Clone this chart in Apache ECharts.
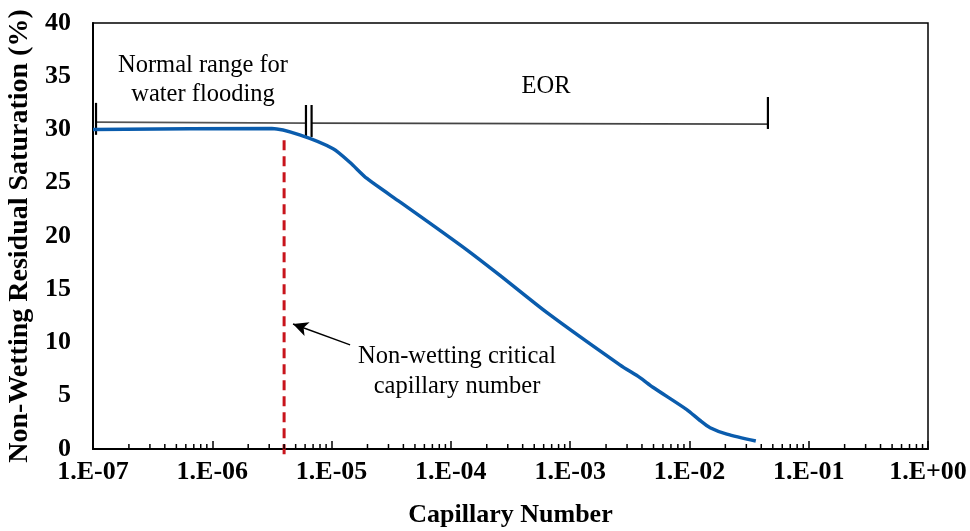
<!DOCTYPE html>
<html>
<head>
<meta charset="utf-8">
<script src="https://cdn.jsdelivr.net/npm/echarts@6/dist/echarts.min.js"></script>
<style>
  html, body { margin: 0; padding: 0; background: #fff; }
  #chart { width: 970px; height: 531px; }
</style>
</head>
<body>
<div id="chart"></div>
<script>
  // capillary number vs residual saturation
  let capNumber = [1e-7, 3.16e-6, 5.4e-6, 1.03e-5, 1.43e-5, 1.98e-5, 3.74e-5, 7.08e-5,
    1.36e-4, 2.58e-4, 6.4e-4, 2.61e-3, 3.85e-3, 4.94e-3, 9.5e-3, 1.22e-2, 1.49e-2, 2.06e-2, 3.6e-2];
  let saturation = [30.0, 30.1, 29.5, 28.2, 26.9, 25.4, 23.2, 21.0,
    18.7, 16.3, 12.8, 7.9, 6.7, 5.8, 3.7, 2.7, 2.0, 1.4, 0.75];

  // annotation geometry (data coords)
  let criticalNc = 4e-6;
  let criticalLine = [[criticalNc, 29.0], [criticalNc, -0.75]];
  let normalRange = [[1.06e-7, 30.7], [6.1e-6, 30.6]];
  let eorRange = [[6.8e-6, 30.6], [4.55e-2, 30.5]];
  let rangeBars = [
    [[1.06e-7, 32.5], [1.06e-7, 29.5]],
    [[6.1e-6, 32.3], [6.1e-6, 29.3]],
    [[6.8e-6, 32.3], [6.8e-6, 29.3]],
    [[4.55e-2, 33.05], [4.55e-2, 30.05]]
  ];
  let arrow = [[1.43e-5, 9.77], [4.75e-6, 11.74]];

  let yTicks = [0, 40, 5];
  let decades = [-7, -6, -5, -4, -3, -2, -1];
  let minorSteps = [2, 3, 4, 5, 6, 7, 8, 9];

  let minorTicks = [];
  decades.forEach(function (d) {
    minorSteps.forEach(function (m) {
      minorTicks.push([m * Math.pow(10, d), 0]);
    });
  });

  const FONT = '"Liberation Serif", "Times New Roman", serif';

  function fmtLog(v) {
    let e = Math.round(Math.log10(v));
    let s = e < 0 ? '-' : '+';
    let a = Math.abs(e);
    return '1.E' + s + (a < 10 ? '0' + a : a);
  }

  let series = [];
  series.push({
    type: 'line',
    data: capNumber.map(function (x, i) { return [x, saturation[i]]; }),
    smooth: 0.25,
    showSymbol: false,
    lineStyle: { color: '#0A5CAD', width: 3.5 },
    z: 5
  });
  series.push({
    type: 'line',
    data: criticalLine,
    showSymbol: false,
    clip: false,
    lineStyle: { color: '#C8141C', width: 3, type: [10, 6] },
    z: 4
  });
  series.push({
    type: 'line',
    data: normalRange,
    showSymbol: false,
    lineStyle: { color: '#555', width: 1.8 }
  });
  series.push({
    type: 'line',
    data: eorRange,
    showSymbol: false,
    lineStyle: { color: '#444', width: 1.8 }
  });
  rangeBars.forEach(function (b) {
    series.push({
      type: 'line',
      data: b,
      showSymbol: false,
      clip: false,
      lineStyle: { color: '#000', width: 2.2 }
    });
  });
  series.push({
    type: 'line',
    data: [],
    markLine: {
      silent: true,
      symbol: ['none', 'arrow'],
      symbolSize: [11, 15],
      label: { show: false },
      lineStyle: { color: '#000', width: 1.4, type: 'solid' },
      data: [[{ coord: arrow[0] }, { coord: arrow[1] }]]
    }
  });
  // minor log ticks on the x axis
  series.push({
    type: 'custom',
    data: minorTicks,
    clip: false,
    renderItem: function (params, api) {
      let p = api.coord([api.value(0), 0]);
      return {
        type: 'line',
        shape: { x1: p[0], y1: p[1], x2: p[0], y2: p[1] - 5 },
        style: { stroke: '#000', lineWidth: 1.5 }
      };
    },
    z: 6
  });

  let option = {
    animation: false,
    textStyle: { fontFamily: FONT },
    grid: {
      show: true,
      left: 93, right: 42, top: 23, bottom: 82,
      outerBoundsMode: 'none',
      containLabel: false,
      borderColor: '#000',
      borderWidth: 1.5
    },
    xAxis: {
      type: 'log',
      logBase: 10,
      min: 1e-7,
      max: 1,
      interval: 1,
      name: 'Capillary Number',
      nameLocation: 'middle',
      nameGap: 53,
      nameTextStyle: { fontFamily: FONT, fontWeight: 'bold', fontSize: 26, color: '#000' },
      axisLine: { lineStyle: { color: '#000', width: 2 } },
      axisTick: { show: true, inside: true, length: 8, lineStyle: { color: '#000', width: 1.5 } },
      splitLine: { show: false },
      axisLabel: {
        formatter: fmtLog,
        margin: 10,
        fontFamily: FONT, fontWeight: 'bold', fontSize: 26, color: '#000'
      }
    },
    yAxis: {
      type: 'value',
      min: yTicks[0],
      max: yTicks[1],
      interval: yTicks[2],
      name: 'Non-Wetting Residual Saturation (%)',
      nameLocation: 'middle',
      nameGap: 59,
      nameTextStyle: { fontFamily: FONT, fontWeight: 'bold', fontSize: 28, color: '#000' },
      axisLine: { show: true, lineStyle: { color: '#000', width: 2 } },
      axisTick: { show: false },
      splitLine: { show: false },
      axisLabel: {
        margin: 22,
        fontFamily: FONT, fontWeight: 'bold', fontSize: 26, color: '#000'
      }
    },
    graphic: [
      {
        type: 'text',
        style: {
          text: 'Normal range for\nwater flooding', x: 203, y: 80,
          font: '24.5px ' + FONT, fill: '#000', align: 'center', verticalAlign: 'middle', lineHeight: 29
        }
      },
      {
        type: 'text',
        style: { text: 'EOR', x: 546, y: 87, font: '24.5px ' + FONT, fill: '#000', align: 'center', verticalAlign: 'middle' }
      },
      {
        type: 'text',
        style: {
          text: 'Non-wetting critical\ncapillary number', x: 457, y: 372,
          font: '24.5px ' + FONT, fill: '#000', align: 'center', verticalAlign: 'middle', lineHeight: 30
        }
      }
    ],
    series: series
  };

  let chart = echarts.init(document.getElementById('chart'));
  chart.setOption(option);
  window.addEventListener('resize', function () {
    chart.resize();
  });
</script>
</body>
</html>
